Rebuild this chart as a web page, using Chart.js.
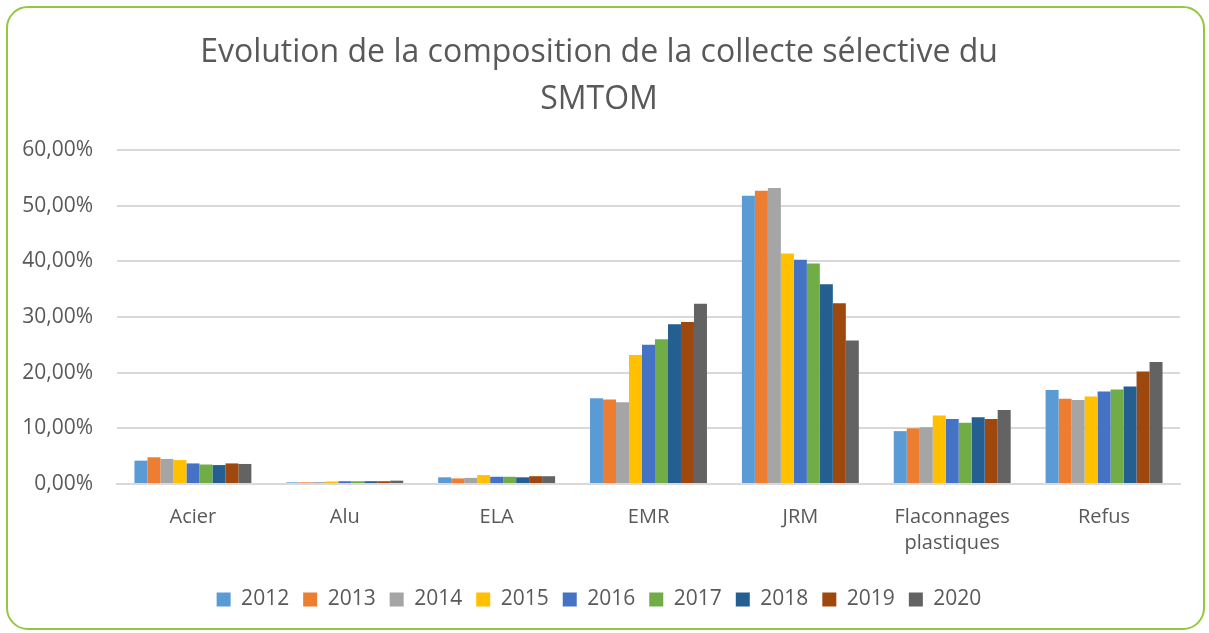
<!DOCTYPE html>
<html>
<head>
<meta charset="utf-8">
<script src="https://cdn.jsdelivr.net/npm/chart.js@4"></script>
<style>
  html, body { margin: 0; padding: 0; background: #fff; }
  body { width: 1209px; height: 633px; position: relative; overflow: hidden; }
  .frame {
    position: absolute; left: 6px; top: 6px; width: 1199px; height: 624px;
    border: 2px solid #92c83e; border-radius: 22px; box-sizing: border-box;
  }
  #wrap { position: absolute; left: 0; top: 0; width: 1209px; height: 633px; }
</style>
</head>
<body>
<div class="frame"></div>
<div id="wrap"><canvas id="chart"></canvas></div>
<script>
const categories = ['Acier', 'Alu', 'ELA', 'EMR', 'JRM', ['Flaconnages', 'plastiques'], 'Refus'];
const years = ['2012', '2013', '2014', '2015', '2016', '2017', '2018', '2019', '2020'];
const colors = ['#5B9BD5', '#ED7D31', '#A5A5A5', '#FFC000', '#4472C4', '#70AD47', '#255E91', '#9E480E', '#636363'];

// share per category (Acier, Alu, ELA, EMR, JRM, Flaconnages, Refus), in %
const v2012 = [4.2, 0.3, 1.2, 15.4, 51.8, 9.5, 16.9];
const v2013 = [4.8, 0.3, 1.0, 15.2, 52.7, 10.0, 15.3];
const v2014 = [4.5, 0.35, 1.1, 14.7, 53.2, 10.2, 15.1];
const v2015 = [4.3, 0.45, 1.6, 23.2, 41.4, 12.3, 15.7];
const v2016 = [3.7, 0.5, 1.3, 25.0, 40.3, 11.7, 16.6];
const v2017 = [3.5, 0.5, 1.3, 26.0, 39.6, 11.0, 17.0];
const v2018 = [3.4, 0.5, 1.2, 28.7, 35.9, 12.0, 17.5];
const v2019 = [3.7, 0.5, 1.4, 29.1, 32.5, 11.7, 20.2];
const v2020 = [3.6, 0.6, 1.4, 32.4, 25.8, 13.3, 21.9];
const series = [v2012, v2013, v2014, v2015, v2016, v2017, v2018, v2019, v2020];

const textColor = '#595959';
const font = "'Open Sans', sans-serif";

new Chart(document.getElementById('chart'), {
  type: 'bar',
  data: {
    labels: categories,
    datasets: series.map((vals, i) => ({
      label: years[i],
      data: vals,
      backgroundColor: colors[i],
      borderWidth: 0,
      categoryPercentage: 0.77,
      barPercentage: 1.0
    }))
  },
  options: {
    responsive: true,
    maintainAspectRatio: false,
    animation: false,
    layout: { padding: { left: 18, right: 29, top: 29, bottom: 13 } },
    plugins: {
      title: {
        display: true,
        text: ['Evolution de la composition de la collecte sélective du', 'SMTOM'],
        color: textColor,
        font: { family: font, size: 32, weight: 'normal', lineHeight: 1.47 },
        padding: { top: 0, bottom: 27 }
      },
      legend: {
        position: 'bottom',
        labels: {
          color: textColor,
          font: { family: font, size: 21 },
          boxWidth: 14,
          boxHeight: 14,
          padding: 14
        }
      },
      tooltip: { enabled: false }
    },
    scales: {
      x: {
        afterFit: (scale) => { scale.height = 91; },
        grid: { display: false, drawTicks: false },
        border: { color: '#d9d9d9', width: 2 },
        ticks: { color: textColor, font: { family: font, size: 20, lineHeight: 1.3 }, padding: 20 }
      },
      y: {
        min: 0,
        max: 60,
        afterFit: (scale) => { scale.width = 99; },
        grid: { color: '#d9d9d9', lineWidth: 2, drawTicks: false },
        border: { display: false },
        ticks: {
          stepSize: 10,
          color: textColor,
          font: { family: font, size: 21 },
          padding: 24,
          callback: (v) => v.toFixed(2).replace('.', ',') + '%'
        }
      }
    }
  }
});
</script>
</body>
</html>
